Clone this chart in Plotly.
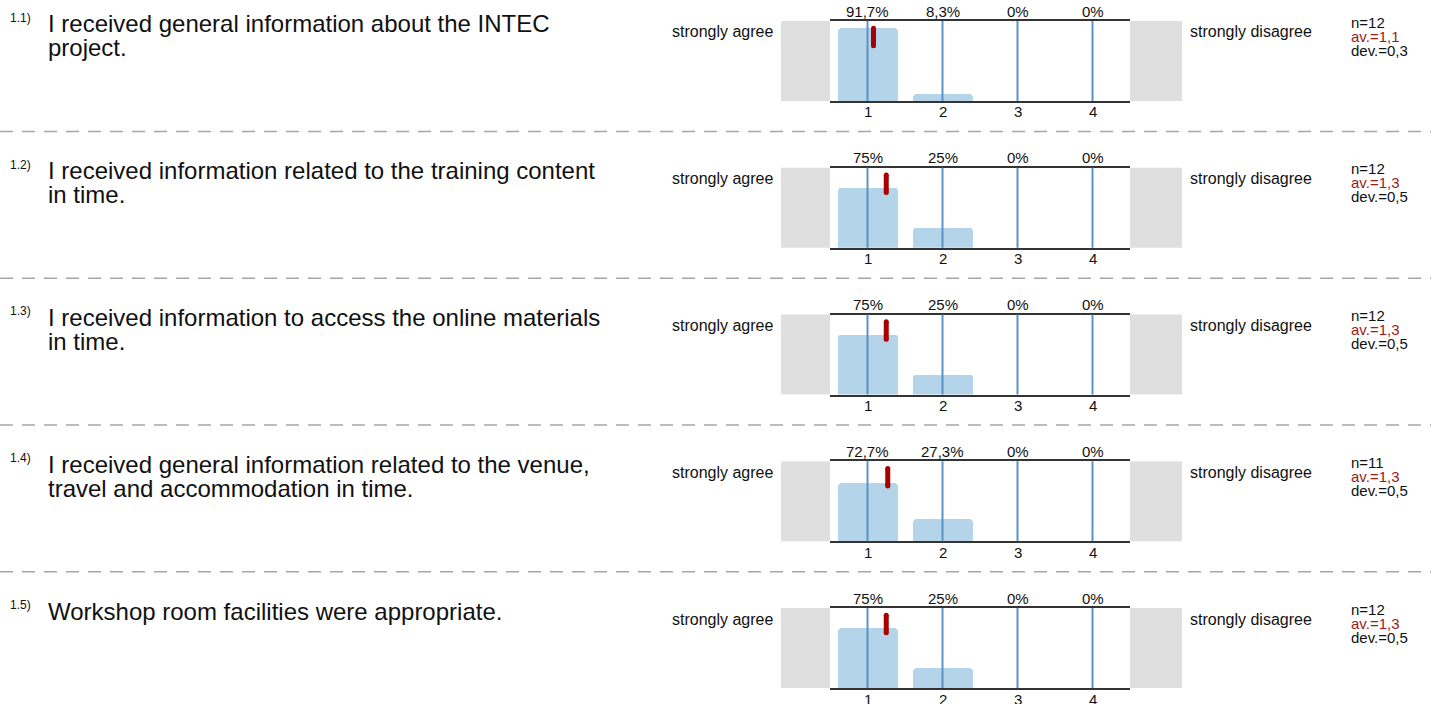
import plotly.graph_objects as go

W, H = 1431, 704

# ---------------- data ----------------
item_numbers = ["1.1)", "1.2)", "1.3)", "1.4)", "1.5)"]
question_lines = [
    ["I received general information about the INTEC", "project."],
    ["I received information related to the training content", "in time."],
    ["I received information to access the online materials", "in time."],
    ["I received general information related to the venue,", "travel and accommodation in time."],
    ["Workshop room facilities were appropriate."],
]
scale_points = [1, 2, 3, 4]
pct_q1 = [91.7, 8.3, 0, 0]
pct_q2 = [75, 25, 0, 0]
pct_q3 = [75, 25, 0, 0]
pct_q4 = [72.7, 27.3, 0, 0]
pct_q5 = [75, 25, 0, 0]
percentages = [pct_q1, pct_q2, pct_q3, pct_q4, pct_q5]
n_values = [12, 12, 12, 11, 12]
av_labels = ["1,1", "1,3", "1,3", "1,3", "1,3"]
av_positions = [1.08, 1.25, 1.25, 1.27, 1.25]
dev_labels = ["0,3", "0,5", "0,5", "0,5", "0,5"]
left_pole = "strongly agree"
right_pole = "strongly disagree"

# ---------------- styling ----------------
FONT = "Liberation Sans, Arial, sans-serif"
BAR_COLOR = "#b4d4ea"
GRID_COLOR = "#5b92c6"
AXIS_COLOR = "#333333"
GRAY_BOX = "#dfdfdf"
AV_COLOR = "#9e1a1a"
MARK_COLOR = "#a80000"

ROW_TOP0 = 21.0
ROW_STEP = 146.75
PLOT_H = 80.0
PLOT_X0, PLOT_X1 = 830.0, 1130.0


def px(x):
    return x / W


def py(y):
    return 1 - y / H


def fmt_pct(v):
    if float(v).is_integer():
        return f"{int(v)}%"
    return f"{v:.1f}".replace(".", ",") + "%"


fig = go.Figure()
annotations = []
shapes = []

for i in range(len(percentages)):
    k = i + 1
    xa = "x" if k == 1 else f"x{k}"
    ya = "y" if k == 1 else f"y{k}"
    top = ROW_TOP0 + ROW_STEP * i
    bot = top + PLOT_H

    fig.add_trace(go.Bar(
        x=scale_points, y=percentages[i], xaxis=xa, yaxis=ya,
        width=0.8, marker=dict(color=BAR_COLOR, cornerradius=4, line=dict(width=0)),
        hoverinfo="skip", showlegend=False,
    ))
    # average marker
    fig.add_trace(go.Scatter(
        x=[av_positions[i], av_positions[i]], y=[91, 69], xaxis=xa, yaxis=ya,
        mode="lines+markers", line=dict(color=MARK_COLOR, width=5),
        marker=dict(color=MARK_COLOR, size=5), hoverinfo="skip", showlegend=False,
    ))

    fig.update_layout(**{
        ("xaxis" if k == 1 else f"xaxis{k}"): dict(
            domain=[px(PLOT_X0), px(PLOT_X1)], range=[0.5, 4.5], anchor=ya,
            tickvals=scale_points, showticklabels=False,
            ticks="", showgrid=False, zeroline=False,
            showline=True, mirror=True, linecolor=AXIS_COLOR, linewidth=2,
            fixedrange=True,
        ),
        ("yaxis" if k == 1 else f"yaxis{k}"): dict(
            domain=[py(bot), py(top)], range=[0, 100], anchor=xa,
            visible=False, fixedrange=True,
        ),
    })

    # vertical scale lines
    for s in scale_points:
        shapes.append(dict(type="line", xref=xa, yref=f"{ya} domain", x0=s, x1=s, y0=0, y1=1,
                           line=dict(color=GRID_COLOR, width=2), layer="above"))
    # grey pole boxes
    shapes.append(dict(type="rect", xref="paper", yref="paper", x0=px(781), x1=px(PLOT_X0),
                       y0=py(bot), y1=py(top), fillcolor=GRAY_BOX, line=dict(width=0), layer="below"))
    shapes.append(dict(type="rect", xref="paper", yref="paper", x0=px(PLOT_X1), x1=px(1182),
                       y0=py(bot), y1=py(top), fillcolor=GRAY_BOX, line=dict(width=0), layer="below"))

    # percentage labels (top) and scale tick labels (bottom)
    for s, v in zip(scale_points, percentages[i]):
        annotations.append(dict(x=s, xref=xa, y=py(top - 10), yref="paper", text=fmt_pct(v),
                                showarrow=False, xanchor="center", yanchor="middle",
                                font=dict(family=FONT, size=15, color="#111")))
        annotations.append(dict(x=s, xref=xa, y=py(bot + 11), yref="paper", text=str(s),
                                showarrow=False, xanchor="center", yanchor="middle",
                                font=dict(family=FONT, size=15, color="#111")))
    # poles
    annotations.append(dict(x=px(775), y=py(top + 11), xref="paper", yref="paper", text=left_pole,
                            showarrow=False, xanchor="right", yanchor="middle",
                            font=dict(family=FONT, size=16, color="#111")))
    annotations.append(dict(x=px(1188), y=py(top + 11), xref="paper", yref="paper", text=right_pole,
                            showarrow=False, xanchor="left", yanchor="middle",
                            font=dict(family=FONT, size=16, color="#111")))
    # stats
    for j, (txt, col) in enumerate([(f"n={n_values[i]}", "#111"),
                                    (f"av.={av_labels[i]}", AV_COLOR),
                                    (f"dev.={dev_labels[i]}", "#111")]):
        annotations.append(dict(x=px(1349), y=py(top + 1 + 14 * j), xref="paper", yref="paper",
                                text=txt, showarrow=False, xanchor="left", yanchor="middle",
                                font=dict(family=FONT, size=15, color=col)))
    # item number
    annotations.append(dict(x=px(8), y=py(top - 3), xref="paper", yref="paper", text=item_numbers[i],
                            showarrow=False, xanchor="left", yanchor="middle",
                            font=dict(family=FONT, size=12, color="#111")))
    # question text
    for j, line in enumerate(question_lines[i]):
        annotations.append(dict(x=px(46), y=py(top + 3 + 24 * j), xref="paper", yref="paper",
                                text=line, showarrow=False, xanchor="left", yanchor="middle",
                                font=dict(family=FONT, size=24, color="#111")))

# dashed separators
for i in range(len(percentages) - 1):
    yy = ROW_TOP0 + ROW_STEP * i + 110.5
    shapes.append(dict(type="line", xref="paper", yref="paper", x0=0, x1=1, y0=py(yy), y1=py(yy),
                       line=dict(color="#a6a6a6", width=1.5, dash="13px,9px")))

fig.update_layout(
    width=W, height=H, margin=dict(l=0, r=0, t=0, b=0),
    paper_bgcolor="white", plot_bgcolor="white",
    shapes=shapes, annotations=annotations, bargap=0, showlegend=False,
)

fig.write_html("out.html", config=dict(displayModeBar=False),
               post_script="document.body.style.margin='0';document.body.style.overflow='hidden';")
